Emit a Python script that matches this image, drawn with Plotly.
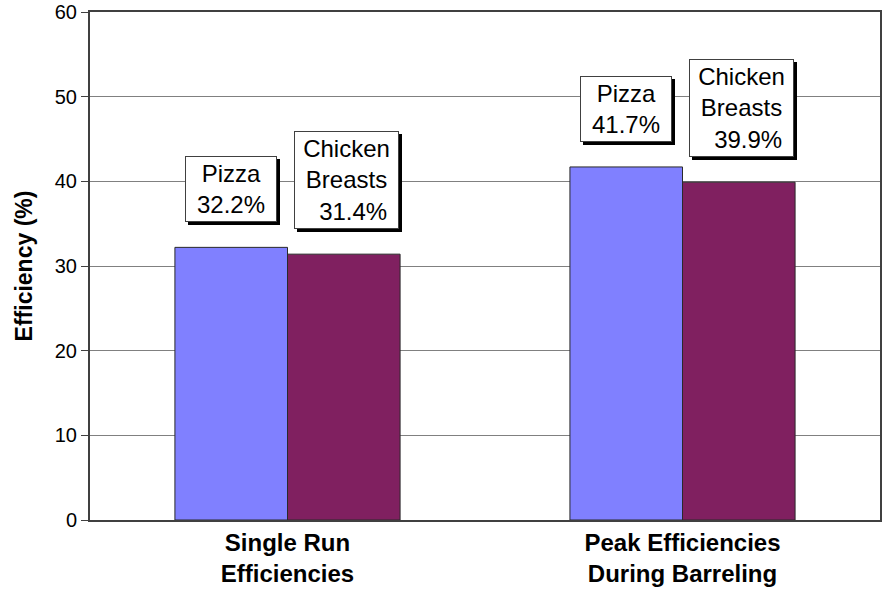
import plotly.graph_objects as go

# Data
categories = ["Single Run<br>Efficiencies", "Peak Efficiencies<br>During Barreling"]
pizza = [32.2, 41.7]
chicken = [31.4, 39.9]
series_names = ["Pizza", "Chicken<br>Breasts"]
label_prefix = ["Pizza<br>", "Chicken<br>Breasts<br>\u00a0\u00a0"]

FONT = "Arial, Liberation Sans, sans-serif"
PIZZA_COLOR = "#8080FF"
CHICKEN_COLOR = "#802060"

fig = go.Figure()
fig.add_trace(go.Bar(
    x=categories, y=pizza, name=series_names[0],
    marker=dict(color=PIZZA_COLOR, line=dict(color="#2a2a2a", width=1)),
))
fig.add_trace(go.Bar(
    x=categories, y=chicken, name=series_names[1],
    marker=dict(color=CHICKEN_COLOR, line=dict(color="#2a2a2a", width=1)),
))

# Boxed value labels with a drop shadow
BAR_HALF = 56.5  # half bar width in px
box_specs = []
for cat, val in zip(categories, pizza):
    box_specs.append((cat, val, -BAR_HALF, label_prefix[0] + f"{val:.1f}%", 88, 62))
for cat, val in zip(categories, chicken):
    box_specs.append((cat, val, BAR_HALF + 2, label_prefix[1] + f"{val:.1f}%", 101, 94))

annotations = []
# shadow boxes (no text) drawn first
for cat, val, dx, txt, w, h in box_specs:
    annotations.append(dict(
        x=cat, y=val, xref="x", yref="y", xanchor="center", yanchor="bottom",
        xshift=dx + 3, yshift=25 - 3, showarrow=False, text="\u00a0",
        font=dict(family=FONT, size=24, color="#000000"),
        bgcolor="#000000", bordercolor="#000000", borderwidth=1, borderpad=1,
        width=w, height=h,
    ))
for cat, val, dx, txt, w, h in box_specs:
    annotations.append(dict(
        x=cat, y=val, xref="x", yref="y", xanchor="center", yanchor="bottom",
        xshift=dx, yshift=25, showarrow=False, text=txt,
        font=dict(family=FONT, size=24, color="#000000"),
        bgcolor="#FFFFFF", bordercolor="#404040", borderwidth=1, borderpad=1,
        width=w, height=h,
    ))

fig.update_layout(
    width=883, height=596,
    margin=dict(l=90, r=1, t=12, b=76),
    paper_bgcolor="#FFFFFF", plot_bgcolor="#FFFFFF",
    barmode="group", bargap=0.43, bargroupgap=0,
    showlegend=False,
    font=dict(family=FONT, color="#000000"),
    annotations=annotations,
)
fig.update_xaxes(
    showline=True, linecolor="#404040", linewidth=2, mirror=True,
    ticks="", showgrid=False,
    tickfont=dict(family=FONT, size=24, color="#000000", weight="bold"),
)
fig.update_yaxes(
    range=[0, 60], dtick=10, tick0=0,
    showline=True, linecolor="#404040", linewidth=2, mirror=True,
    ticks="outside", ticklen=7, tickcolor="#404040", tickwidth=1,
    showgrid=True, gridcolor="#808080", gridwidth=1,
    tickfont=dict(family=FONT, size=20, color="#000000"),
    title=dict(text="Efficiency (%)", standoff=16,
               font=dict(family=FONT, size=23, color="#000000", weight="bold")),
    zeroline=False,
)

fig.write_html("out.html")
